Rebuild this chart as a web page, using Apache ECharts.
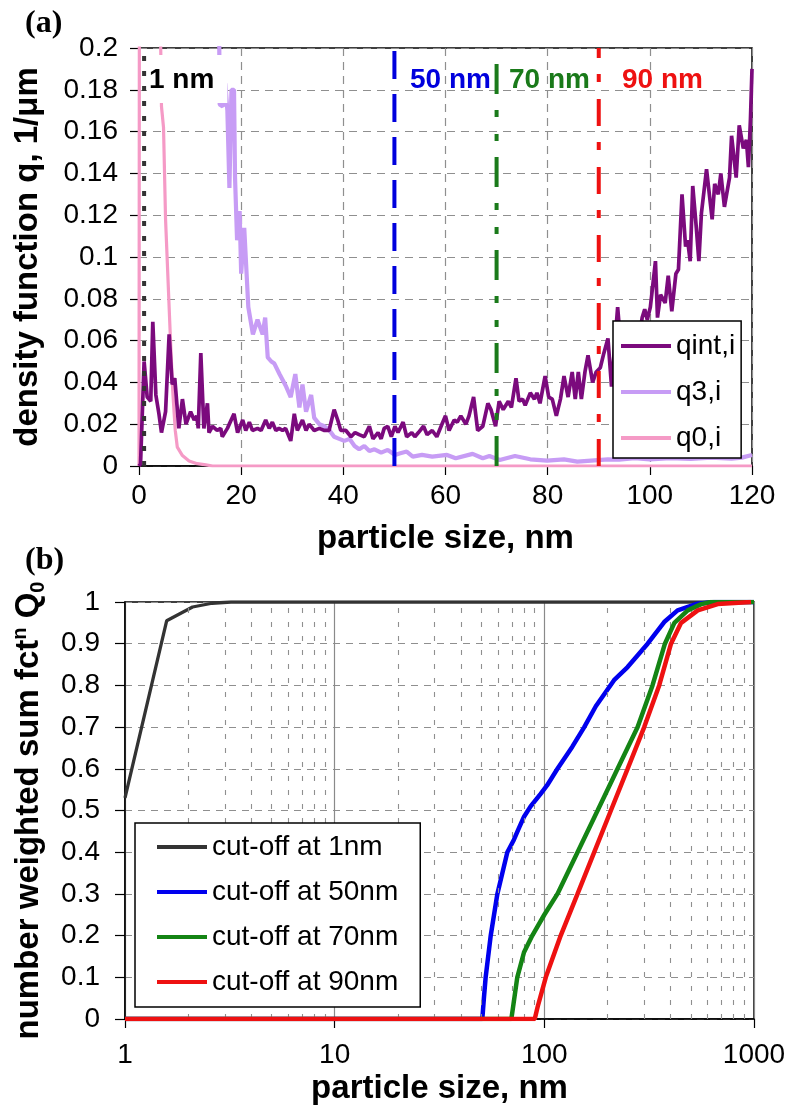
<!DOCTYPE html>
<html><head><meta charset="utf-8">
<script src="https://cdn.jsdelivr.net/npm/echarts@6/dist/echarts.min.js"></script>
<style>html,body{margin:0;padding:0;background:#fff}#chart{width:787px;height:1117px}</style>
</head><body><div id="chart"></div>
<script>
// ---------- Panel (a): density functions ----------
const qintX = [0,0.3,1.0,1.6,2.3,2.7,3.3,3.9,4.4,5.2,5.9,6.5,7.0,7.8,8.5,9.2,10.1,10.8,11.3,11.6,12.1,12.7,13.4,13.7,14.4,15.3,16.0,16.3,17.3,18.6,19.3,20.3,20.9,21.6,22.2,23.2,23.9,24.8,25.5,26.1,26.8,27.4,28.1,28.7,29.7,30.4,31.0,32.0,32.7,33.3,34.3,35.3,36.3,37.2,38.2,38.9,39.5,40.5,41.5,42.3,43.1,44.1,45.1,45.8,46.8,47.4,48.0,48.7,49.4,50.1,50.7,51.7,52.4,53.4,54.0,54.7,55.7,56.4,57.4,58.3,59.3,60.0,60.7,61.7,62.3,63.0,64.0,64.6,65.5,66.3,67.3,68.3,68.9,69.8,70.5,71.3,72.3,72.9,73.8,74.4,75.1,75.6,76.6,77.4,77.9,78.5,79.5,80.2,80.9,81.7,82.5,83.2,84.0,84.8,85.4,86.0,86.6,87.3,87.9,88.8,89.5,90.3,91.0,91.8,92.5,93.7,94.5,95.3,96.1,96.9,97.6,98.5,99.0,99.5,100.1,101.1,101.5,102.1,103.0,103.6,104.3,105.1,105.6,106.3,107.0,107.4,107.9,108.4,109.1,109.6,110.1,111.1,112.2,112.7,113.4,113.9,114.6,115.6,116.0,116.9,117.5,118.3,118.9,119.3,119.7,120.0];
const qintY = [0,0.001,0.050,0.033,0.031,0.069,0.034,0.025,0.016,0.026,0.063,0.039,0.042,0.018,0.032,0.020,0.026,0.022,0.024,0.018,0.054,0.018,0.030,0.016,0.019,0.017,0.018,0.014,0.018,0.025,0.016,0.022,0.017,0.021,0.017,0.018,0.017,0.022,0.018,0.021,0.017,0.018,0.017,0.018,0.012,0.025,0.017,0.022,0.017,0.020,0.017,0.018,0.017,0.017,0.027,0.022,0.017,0.017,0.014,0.016,0.015,0.014,0.019,0.013,0.016,0.013,0.018,0.019,0.014,0.019,0.016,0.021,0.014,0.016,0.014,0.016,0.019,0.015,0.017,0.014,0.020,0.024,0.017,0.022,0.021,0.024,0.020,0.024,0.033,0.017,0.019,0.030,0.027,0.019,0.031,0.027,0.031,0.028,0.042,0.031,0.032,0.029,0.035,0.032,0.035,0.030,0.043,0.033,0.032,0.024,0.032,0.043,0.033,0.045,0.032,0.045,0.032,0.045,0.053,0.040,0.045,0.047,0.054,0.061,0.038,0.076,0.052,0.064,0.050,0.062,0.056,0.071,0.075,0.070,0.076,0.098,0.071,0.082,0.078,0.091,0.074,0.092,0.094,0.130,0.105,0.108,0.098,0.134,0.114,0.098,0.121,0.142,0.118,0.135,0.130,0.140,0.124,0.138,0.158,0.138,0.163,0.152,0.156,0.143,0.166,0.190];

const q3X = [15.4,15.8,16.4,16.9,17.3,17.7,18.1,18.6,18.8,19.2,19.7,20.0,20.6,21.4,22.3,23.2,24.2,24.7,25.2,25.9,26.5,27.5,28.8,29.7,30.6,31.4,32.0,32.7,33.7,34.3,35.3,36.3,37.3,38.2,39.2,40.2,41.2,42.2,43.1,44.1,45.1,46.1,47.4,48.7,49.7,50.1,51.0,52.4,53.6,55.4,57.4,60.3,62.0,65.3,67.3,68.6,70.6,73.6,76.6,79.9,83.2,85.8,88.5,91.8,94.0,97.0,100.0,104.0,108.0,112.0,116.0,118.0,120.0];
const q3Y = [0.30,0.173,0.172,0.183,0.170,0.133,0.180,0.180,0.138,0.108,0.122,0.092,0.114,0.076,0.063,0.070,0.063,0.071,0.052,0.050,0.049,0.044,0.038,0.033,0.044,0.028,0.039,0.026,0.034,0.023,0.020,0.019,0.017,0.014,0.013,0.012,0.013,0.0096,0.008,0.0096,0.0072,0.008,0.0064,0.0077,0.006,0.0053,0.006,0.0069,0.0045,0.0053,0.0045,0.0053,0.0037,0.0058,0.0037,0.0048,0.0029,0.0048,0.0032,0.0026,0.0032,0.0021,0.0026,0.0032,0.0030,0.0037,0.0032,0.0037,0.0034,0.0040,0.0035,0.0040,0.0053];

const q0X = [0,0.2,3.9,4.2,4.4,4.8,5.2,5.3,6.1,6.6,7.1,7.5,8.5,9.8,11.4,13.1,14.4,120];
const q0Y = [0,0.6,0.5,0.21,0.172,0.162,0.118,0.112,0.064,0.036,0.017,0.009,0.005,0.0024,0.0011,0.0005,0,0];

const cutoffSizes = [1, 50, 70, 90];
const cutoffLabels = ['1 nm', '50 nm', '70 nm', '90 nm'];

// ---------- Panel (b): cumulative distributions ----------
const cut1X  = [1, 1.58, 2.1, 2.6, 3.2, 1000];
const cut1Y  = [0.53, 0.955, 0.988, 0.997, 1, 1];
const cut50X = [1, 50.6, 51.5, 52.5, 55.5, 59.7, 66.6, 71.6, 76, 80, 86, 96, 103, 115.5, 136, 155, 176, 215, 249.5, 311, 373, 432, 538, 646, 1000];
const cut50Y = [0, 0, 0.05, 0.1, 0.2, 0.3, 0.4, 0.43, 0.46, 0.485, 0.51, 0.54, 0.56, 0.6, 0.653, 0.7, 0.75, 0.8125, 0.844, 0.9, 0.952, 0.98, 0.996, 1, 1];
const cut70X = [1, 69.6, 71, 74.3, 80, 87.6, 100, 115.5, 144, 179.5, 223.5, 278.6, 328, 376, 417, 483, 560, 624, 1000];
const cut70Y = [0, 0, 0.03, 0.1, 0.16, 0.2, 0.25, 0.3, 0.4, 0.5, 0.6, 0.7, 0.8, 0.9, 0.95, 0.98, 0.995, 1, 1];
const cut90X = [1, 90, 93, 101.6, 119.7, 144, 173, 207.7, 249.5, 299.5, 353, 402, 449, 539, 671, 968];
const cut90Y = [0, 0, 0.03, 0.1, 0.2, 0.3, 0.4, 0.5, 0.6, 0.7, 0.8, 0.9, 0.95, 0.98, 0.995, 1];

const minorGridX = [2,3,4,5,6,7,8,9,20,30,40,50,60,70,80,90,200,300,400,500,600,700,800,900];

const pairs = (xs, ys) => xs.map((x, i) => [x, ys[i]]);

const FONT = '"Liberation Sans", Arial, sans-serif';
const GRIDLINE = '#8f8f8f';

const markerColors = ['#333333', '#0000dd', '#1a7a1a', '#ee1111'];
const labelColors = ['#000000', '#0000dd', '#1a7a1a', '#ee1111'];
const markerDash = [[5, 10], [28, 15], [30, 16, 7, 17, 7, 16], [27, 17, 8, 16]];

const baseXAxis = {
  axisLine: { lineStyle: { color: '#000', width: 1.5 } },
  axisTick: { length: 9, lineStyle: { color: '#000', width: 1.2 } },
  axisLabel: { fontSize: 28, color: '#000', fontFamily: FONT },
  nameLocation: 'middle',
  nameMoveOverlap: false,
  nameTextStyle: { fontSize: 33, fontWeight: 'bold', color: '#000', fontFamily: FONT }
};

const option = {
  animation: false,
  backgroundColor: '#fff',
  textStyle: { fontFamily: FONT },
  grid: [
    { left: 139, top: 48, width: 613, height: 418, show: true, borderColor: '#000', borderWidth: 1.5, backgroundColor: 'transparent', outerBoundsMode: 'none', containLabel: false },
    { left: 125, top: 602, width: 629, height: 417, show: true, borderColor: '#000', borderWidth: 1.5, backgroundColor: 'transparent', outerBoundsMode: 'none', containLabel: false }
  ],
  xAxis: [
    Object.assign({}, baseXAxis, {
      gridIndex: 0, type: 'value', min: 0, max: 120, interval: 20,
      axisLabel: Object.assign({}, baseXAxis.axisLabel, { margin: 16 }),
      splitLine: { show: true, lineStyle: { color: GRIDLINE, type: [8, 6], width: 1.2 } },
      name: 'particle size, nm', nameGap: 56
    }),
    Object.assign({}, baseXAxis, {
      gridIndex: 1, type: 'log', logBase: 10, min: 1, max: 1000,
      axisLabel: Object.assign({}, baseXAxis.axisLabel, { margin: 22, formatter: v => String(Math.round(v)) }),
      splitLine: { show: true, lineStyle: { color: '#8a8a8a', type: 'solid', width: 1.2 } },
      name: 'particle size, nm', nameGap: 53
    })
  ],
  yAxis: [
    {
      gridIndex: 0, type: 'value', min: 0, max: 0.2, interval: 0.02,
      axisLine: { show: true, lineStyle: { color: '#000', width: 1.5 } },
      axisTick: { show: true, length: 9, lineStyle: { color: '#000', width: 1.2 } },
      axisLabel: { fontSize: 28, color: '#000', margin: 21, fontFamily: FONT },
      splitLine: { show: true, lineStyle: { color: GRIDLINE, type: [8, 6], width: 1.2 } },
      name: 'density function q, 1/\u03bcm', nameLocation: 'middle', nameGap: 95, nameMoveOverlap: false,
      nameTextStyle: { fontSize: 33, fontWeight: 'bold', color: '#000', fontFamily: FONT }
    },
    {
      gridIndex: 1, type: 'value', min: 0, max: 1, interval: 0.1,
      axisLine: { show: true, lineStyle: { color: '#000', width: 1.5 } },
      axisTick: { show: true, length: 10, lineStyle: { color: '#000', width: 1.2 } },
      axisLabel: { fontSize: 28, color: '#000', margin: 25, fontFamily: FONT },
      splitLine: { show: true, lineStyle: { color: GRIDLINE, type: [7, 6], width: 1.2 } },
      name: '{t|number weighted sum fct}{sup|n}{t| Q}{sub|0}', nameLocation: 'middle', nameGap: 77, nameMoveOverlap: false,
      nameTextStyle: {
        fontSize: 33, fontWeight: 'bold', color: '#000', fontFamily: FONT,
        rich: {
          t: { fontSize: 33, fontWeight: 'bold', color: '#000', fontFamily: FONT, lineHeight: 38 },
          sup: { fontSize: 20, fontWeight: 'bold', color: '#000', fontFamily: FONT, lineHeight: 20, verticalAlign: 'top' },
          sub: { fontSize: 20, fontWeight: 'bold', color: '#000', fontFamily: FONT, lineHeight: 20, verticalAlign: 'bottom' }
        }
      }
    }
  ],
  legend: [
    {
      data: ['qint,i', 'q3,i', 'q0,i'], orient: 'vertical', left: 613, top: 321,
      padding: [11, 6, 6, 8], itemGap: 18, itemWidth: 50, itemHeight: 4, icon: 'rect',
      textStyle: { fontSize: 28, color: '#000', fontFamily: FONT, lineHeight: 28 },
      borderColor: '#000', borderWidth: 1.5, borderRadius: 0, backgroundColor: '#fff', z: 10, selectedMode: false
    },
    {
      data: ['cut-off at 1nm', 'cut-off at 50nm', 'cut-off at 70nm', 'cut-off at 90nm'], orient: 'vertical', left: 135, top: 823,
      padding: [10, 22, 11, 22], itemGap: 17, itemWidth: 50, itemHeight: 4, icon: 'rect',
      textStyle: { fontSize: 28, color: '#000', fontFamily: FONT, lineHeight: 28 },
      borderColor: '#000', borderWidth: 1.5, borderRadius: 0, backgroundColor: '#fff', z: 10, selectedMode: false
    }
  ],
  graphic: [
    { type: 'text', left: 25, top: 8, z: 20, style: { text: '(a)', fontSize: 32, fontWeight: 'bold', fontFamily: '"Liberation Serif", "Times New Roman", serif', fill: '#000' } },
    { type: 'text', left: 25, top: 545, z: 20, style: { text: '(b)', fontSize: 32, fontWeight: 'bold', fontFamily: '"Liberation Serif", "Times New Roman", serif', fill: '#000' } },
    { type: 'text', left: 147, top: 55, z: 20, style: { text: cutoffLabels[0], fontSize: 28, fontWeight: 'bold', fontFamily: FONT, fill: labelColors[0], backgroundColor: '#fff', padding: [11, 13, 9, 2] } },
    { type: 'text', left: 410, top: 66, z: 20, style: { text: cutoffLabels[1], fontSize: 28, fontWeight: 'bold', fontFamily: FONT, fill: labelColors[1] } },
    { type: 'text', left: 509, top: 66, z: 20, style: { text: cutoffLabels[2], fontSize: 28, fontWeight: 'bold', fontFamily: FONT, fill: labelColors[2] } },
    { type: 'text', left: 622, top: 66, z: 20, style: { text: cutoffLabels[3], fontSize: 28, fontWeight: 'bold', fontFamily: FONT, fill: labelColors[3] } }
  ],
  series: []
};

// panel (a) data series
option.series.push(
  { name: 'q0,i', type: 'line', xAxisIndex: 0, yAxisIndex: 0, data: pairs(q0X, q0Y), symbol: 'none', z: 2,
    lineStyle: { color: '#f59ac6', width: 3.2 }, itemStyle: { color: '#f59ac6' } },
  { name: 'q3,i', type: 'line', xAxisIndex: 0, yAxisIndex: 0, data: pairs(q3X, q3Y), symbol: 'none', z: 3,
    lineStyle: { color: '#c79cf5', width: 4.2 }, itemStyle: { color: '#c79cf5' } },
  { name: 'qint,i', type: 'line', xAxisIndex: 0, yAxisIndex: 0, data: pairs(qintX, qintY), symbol: 'none', z: 4,
    lineStyle: { color: '#7b0a7d', width: 3.7 }, itemStyle: { color: '#7b0a7d' } }
);
// cut-off marker lines
cutoffSizes.forEach((s, i) => {
  option.series.push({
    name: 'marker ' + cutoffLabels[i], type: 'line', xAxisIndex: 0, yAxisIndex: 0,
    data: [[s, 0], [s, 0.2]], symbol: 'none', z: 5, silent: true,
    lineStyle: { color: markerColors[i], width: 4, type: markerDash[i], cap: 'butt' }
  });
});
// panel (b) minor vertical gridlines
option.series.push({
  name: 'minor grid', type: 'line', xAxisIndex: 1, yAxisIndex: 1, data: [], z: 1, silent: true,
  markLine: {
    silent: true, symbol: ['none', 'none'], label: { show: false },
    lineStyle: { color: GRIDLINE, type: [5, 9], width: 1.1 },
    data: minorGridX.map(v => ({ xAxis: v }))
  }
});
option.series.push(
  { name: 'cut-off at 1nm', type: 'line', xAxisIndex: 1, yAxisIndex: 1, data: pairs(cut1X, cut1Y), symbol: 'none', z: 3,
    lineStyle: { color: '#333333', width: 3.3 }, itemStyle: { color: '#333333' } },
  { name: 'cut-off at 50nm', type: 'line', xAxisIndex: 1, yAxisIndex: 1, data: pairs(cut50X, cut50Y), symbol: 'none', z: 4,
    lineStyle: { color: '#0000ee', width: 4.5 }, itemStyle: { color: '#0000ee' } },
  { name: 'cut-off at 70nm', type: 'line', xAxisIndex: 1, yAxisIndex: 1, data: pairs(cut70X, cut70Y), symbol: 'none', z: 5,
    lineStyle: { color: '#148414', width: 4.5 }, itemStyle: { color: '#148414' } },
  { name: 'cut-off at 90nm', type: 'line', xAxisIndex: 1, yAxisIndex: 1, data: pairs(cut90X, cut90Y), symbol: 'none', z: 6,
    lineStyle: { color: '#ee1111', width: 4.5 }, itemStyle: { color: '#ee1111' } }
);

const chart = echarts.init(document.getElementById('chart'), null, { renderer: 'canvas', width: 787, height: 1117 });
chart.setOption(option);
</script></body></html>
